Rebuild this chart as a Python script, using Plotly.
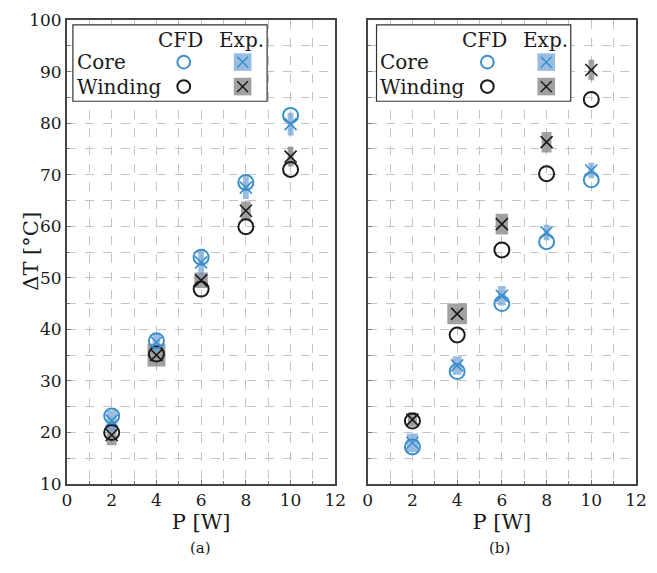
import plotly.graph_objects as go
from plotly.subplots import make_subplots

P = [2, 4, 6, 8, 10]

# Panel (a)
core_cfd_a = [23.2, 37.8, 54.0, 68.5, 81.5]
wind_cfd_a = [20.0, 35.2, 47.8, 59.9, 71.0]
core_exp_a = [22.3, 37.5, 53.0, 67.5, 79.8]
core_exp_a_ey = [2.0, 1.8, 2.3, 2.2, 2.2]
core_exp_a_ex = [0.22, 0.17, 0.13, 0.13, 0.13]
wind_exp_a = [19.5, 35.0, 49.5, 63.0, 73.5]
wind_exp_a_ey = [2.0, 2.2, 1.5, 1.8, 1.9]
wind_exp_a_ex = [0.22, 0.4, 0.3, 0.22, 0.13]

# Panel (b)
core_cfd_b = [17.2, 31.8, 45.0, 57.0, 69.0]
wind_cfd_b = [22.2, 38.9, 55.4, 70.2, 84.6]
core_exp_b = [18.0, 33.0, 46.5, 58.8, 70.8]
core_exp_b_ey = [1.8, 1.8, 1.9, 1.5, 1.5]
core_exp_b_ex = [0.25, 0.2, 0.17, 0.13, 0.13]
wind_exp_b = [22.5, 43.0, 60.4, 76.3, 90.3]
wind_exp_b_ey = [1.4, 2.0, 2.0, 2.0, 2.0]
wind_exp_b_ex = [0.2, 0.44, 0.28, 0.22, 0.13]

BLUE = "#3a8fcb"
BLUE_BOX = "rgba(110,160,215,0.70)"
GRAY_BOX = "rgba(130,130,130,0.75)"
BLACK = "#1a1a1a"
FONT = "DejaVu Serif"
TXT = "#1a1a1a"

fig = make_subplots(rows=1, cols=2, horizontal_spacing=0.057)


def boxes(xs, ys, exs, eys):
    bx, by = [], []
    for x, y, ex, ey in zip(xs, ys, exs, eys):
        bx += [x - ex, x + ex, x + ex, x - ex, x - ex, None]
        by += [y - ey, y - ey, y + ey, y + ey, y - ey, None]
    return bx, by


panels = [
    (1, core_cfd_a, wind_cfd_a, core_exp_a, core_exp_a_ex, core_exp_a_ey,
     wind_exp_a, wind_exp_a_ex, wind_exp_a_ey),
    (2, core_cfd_b, wind_cfd_b, core_exp_b, core_exp_b_ex, core_exp_b_ey,
     wind_exp_b, wind_exp_b_ex, wind_exp_b_ey),
]

for col, ccfd, wcfd, cexp, cex, cey, wexp, wex, wey in panels:
    bx, by = boxes(P, wexp, wex, wey)
    fig.add_trace(go.Scatter(x=bx, y=by, mode="lines", fill="toself",
                             fillcolor=GRAY_BOX, line=dict(width=0),
                             hoverinfo="skip", showlegend=False), row=1, col=col)
    bx, by = boxes(P, cexp, cex, cey)
    fig.add_trace(go.Scatter(x=bx, y=by, mode="lines", fill="toself",
                             fillcolor=BLUE_BOX, line=dict(width=0),
                             hoverinfo="skip", showlegend=False), row=1, col=col)
    fig.add_trace(go.Scatter(x=P, y=wexp, mode="markers", showlegend=False,
                             marker=dict(symbol="x-thin-open", size=12, color=BLACK,
                                         line=dict(color=BLACK, width=1.6))),
                  row=1, col=col)
    fig.add_trace(go.Scatter(x=P, y=cexp, mode="markers", showlegend=False,
                             marker=dict(symbol="x-thin-open", size=12, color=BLUE,
                                         line=dict(color=BLUE, width=1.6))),
                  row=1, col=col)
    fig.add_trace(go.Scatter(x=P, y=wcfd, mode="markers", showlegend=False,
                             marker=dict(symbol="circle-open", size=15, color=BLACK,
                                         line=dict(color=BLACK, width=2))),
                  row=1, col=col)
    fig.add_trace(go.Scatter(x=P, y=ccfd, mode="markers", showlegend=False,
                             marker=dict(symbol="circle-open", size=15, color=BLUE,
                                         line=dict(color=BLUE, width=2))),
                  row=1, col=col)

axis_common = dict(
    showline=True, linecolor="#444444", linewidth=2, mirror=True,
    showgrid=True, gridcolor="#c4c4c4", griddash="dash", gridwidth=1,
    zeroline=False, ticks="inside", ticklen=4, tickcolor="#777777",
    tickfont=dict(family=FONT, size=17, color=TXT),
)

for col in (1, 2):
    fig.update_xaxes(range=[0, 12], dtick=2, tick0=0,
                     minor=dict(dtick=1, showgrid=True, gridcolor="#c4c4c4",
                                griddash="dash", ticks="inside", ticklen=3,
                                tickcolor="#777777"),
                     title=dict(text="P [W]", font=dict(family=FONT, size=21, color=TXT),
                                standoff=1),
                     row=1, col=col, **axis_common)
    fig.update_yaxes(range=[10, 100], dtick=10, tick0=0,
                     minor=dict(dtick=5, showgrid=True, gridcolor="#c4c4c4",
                                griddash="dash", ticks="inside", ticklen=3,
                                tickcolor="#777777"),
                     showticklabels=(col == 1),
                     row=1, col=col, **axis_common)

W, H = 657, 573
L, R, T, B = 67, 10, 10, 89
pw, ph = W - L - R, H - T - B


def px(x):
    return (x - L) / pw


def py(y):
    return 1 - (y - T) / ph


shapes = []
annotations = [
    dict(text="ΔT [°C]", x=px(30), y=py(246), showarrow=False, textangle=-90,
         xref="paper", yref="paper", xanchor="center", yanchor="middle",
         font=dict(family=FONT, size=21, color=TXT)),
]
for x0 in (73, 382.5):
    # legend box
    shapes.append(dict(type="rect", xref="paper", yref="paper",
                       x0=px(x0), x1=px(x0 + 198), y0=py(93), y1=py(15),
                       line=dict(color="#333333", width=1.2), fillcolor="white",
                       layer="above"))
    annotations += [
        dict(text="CFD", x=px(x0 + 110), y=py(30), showarrow=False,
             xref="paper", yref="paper", xanchor="center", yanchor="middle",
             font=dict(family=FONT, size=20, color=TXT)),
        dict(text="Exp.", x=px(x0 + 172), y=py(30), showarrow=False,
             xref="paper", yref="paper", xanchor="center", yanchor="middle",
             font=dict(family=FONT, size=20, color=TXT)),
        dict(text="Core", x=px(x0 + 2), y=py(53), showarrow=False,
             xref="paper", yref="paper", xanchor="left", yanchor="middle",
             font=dict(family=FONT, size=20, color=TXT)),
        dict(text="Winding", x=px(x0 + 2), y=py(78), showarrow=False,
             xref="paper", yref="paper", xanchor="left", yanchor="middle",
             font=dict(family=FONT, size=20, color=TXT)),
    ]
    cx = x0 + 113
    ex = x0 + 173
    for yy, col_c, box_c, xcol in ((53, BLUE, BLUE_BOX, BLUE), (78, BLACK, GRAY_BOX, BLACK)):
        shapes.append(dict(type="circle", xref="paper", yref="paper",
                           x0=px(cx - 6.5), x1=px(cx + 6.5), y0=py(yy + 6.5), y1=py(yy - 6.5),
                           line=dict(color=col_c, width=2), layer="above"))
        shapes.append(dict(type="rect", xref="paper", yref="paper",
                           x0=px(ex - 9), x1=px(ex + 9), y0=py(yy + 9), y1=py(yy - 9),
                           line=dict(width=0), fillcolor=box_c, layer="above"))
        shapes.append(dict(type="line", xref="paper", yref="paper",
                           x0=px(ex - 5.5), x1=px(ex + 5.5), y0=py(yy + 5.5), y1=py(yy - 5.5),
                           line=dict(color=xcol, width=1.5), layer="above"))
        shapes.append(dict(type="line", xref="paper", yref="paper",
                           x0=px(ex - 5.5), x1=px(ex + 5.5), y0=py(yy - 5.5), y1=py(yy + 5.5),
                           line=dict(color=xcol, width=1.5), layer="above"))

annotations += [
    dict(text="(a)", x=px(203), y=py(549), showarrow=False, xref="paper", yref="paper",
         xanchor="center", yanchor="middle", font=dict(family=FONT, size=15, color=TXT)),
    dict(text="(b)", x=px(508), y=py(549), showarrow=False, xref="paper", yref="paper",
         xanchor="center", yanchor="middle", font=dict(family=FONT, size=15, color=TXT)),
]

fig.update_layout(
    width=W, height=H,
    margin=dict(l=L, r=R, t=T, b=B),
    paper_bgcolor="white", plot_bgcolor="white",
    font=dict(family=FONT, color=TXT),
    shapes=shapes, annotations=annotations,
    showlegend=False,
)

fig.write_html("out.html")
